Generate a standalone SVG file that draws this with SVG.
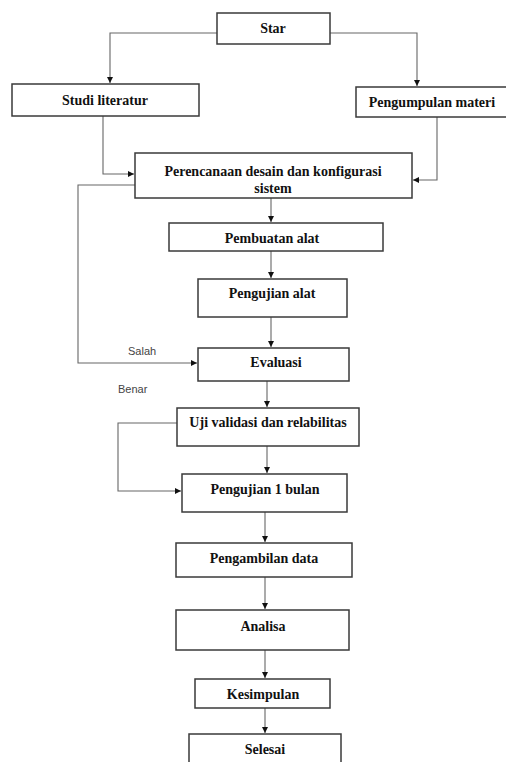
<svg xmlns="http://www.w3.org/2000/svg" width="506" height="762" viewBox="0 0 506 762">
<defs>
<style>
.box{fill:#fff;stroke:#3a3a3a;stroke-width:1.5}
.t{font-family:"Liberation Serif","Times New Roman",serif;font-weight:bold;font-size:14px;fill:#111;text-anchor:middle}
.lbl{font-family:"Liberation Sans",Arial,sans-serif;font-size:11px;fill:#444}
.c{fill:none;stroke:#666;stroke-width:1.1}
</style>
<marker id="ah" viewBox="0 0 10 10" refX="10" refY="5" markerWidth="6" markerHeight="6" markerUnits="userSpaceOnUse" orient="auto">
<path d="M0,0 L10,5 L0,10 Z" fill="#111"/>
</marker>
</defs>
<rect width="506" height="762" fill="#fff"/>
<g id="connectors">
<path class="c" d="M217,33 H110 V83" marker-end="url(#ah)"/>
<path class="c" d="M330,33 H417 V86" marker-end="url(#ah)"/>
<path class="c" d="M103,116 V174 H134" marker-end="url(#ah)"/>
<path class="c" d="M437,117 V180 H413" marker-end="url(#ah)"/>
<path class="c" d="M135,185 H78 V363 H197" marker-end="url(#ah)"/>
<path class="c" d="M271,198 V222" marker-end="url(#ah)"/>
<path class="c" d="M271,251 V278" marker-end="url(#ah)"/>
<path class="c" d="M271,317 V347" marker-end="url(#ah)"/>
<path class="c" d="M267,381 V407" marker-end="url(#ah)"/>
<path class="c" d="M177,423 H118 V491 H181" marker-end="url(#ah)"/>
<path class="c" d="M267,446 V473" marker-end="url(#ah)"/>
<path class="c" d="M265,512 V542" marker-end="url(#ah)"/>
<path class="c" d="M265,577 V609" marker-end="url(#ah)"/>
<path class="c" d="M265,650 V678" marker-end="url(#ah)"/>
<path class="c" d="M265,708 V733" marker-end="url(#ah)"/>
<text class="lbl" x="128" y="355">Salah</text>
<text class="lbl" x="118" y="393">Benar</text>
</g>
<g id="star"><rect class="box" x="217" y="13" width="113" height="31"/><text class="t" x="273" y="33">Star</text></g>
<g id="studi"><rect class="box" x="12" y="84" width="187" height="32"/><text class="t" x="105" y="105">Studi literatur</text></g>
<g id="pengumpulan"><rect class="box" x="356" y="87" width="154" height="30"/><text class="t" x="432" y="107">Pengumpulan materi</text></g>
<g id="perencanaan"><rect class="box" x="135" y="153" width="277" height="45"/><text class="t" x="273" y="176">Perencanaan desain dan konfigurasi</text><text class="t" x="273" y="193">sistem</text></g>
<g id="pembuatan"><rect class="box" x="169" y="223" width="214" height="28"/><text class="t" x="272" y="243">Pembuatan alat</text></g>
<g id="pengujian"><rect class="box" x="198" y="279" width="149" height="38"/><text class="t" x="272" y="298">Pengujian alat</text></g>
<g id="evaluasi"><rect class="box" x="198" y="348" width="151" height="33"/><text class="t" x="276" y="367">Evaluasi</text></g>
<g id="uji"><rect class="box" x="177" y="408" width="182" height="38"/><text class="t" x="268" y="427">Uji validasi dan relabilitas</text></g>
<g id="pengujian1"><rect class="box" x="182" y="474" width="165" height="38"/><text class="t" x="265" y="494">Pengujian 1 bulan</text></g>
<g id="pengambilan"><rect class="box" x="176" y="543" width="176" height="34"/><text class="t" x="264" y="563">Pengambilan data</text></g>
<g id="analisa"><rect class="box" x="176" y="610" width="173" height="40"/><text class="t" x="263" y="631">Analisa</text></g>
<g id="kesimpulan"><rect class="box" x="195" y="679" width="135" height="29"/><text class="t" x="263" y="699">Kesimpulan</text></g>
<g id="selesai"><rect class="box" x="189" y="734" width="152" height="34"/><text class="t" x="265" y="754">Selesai</text></g>
</svg>
